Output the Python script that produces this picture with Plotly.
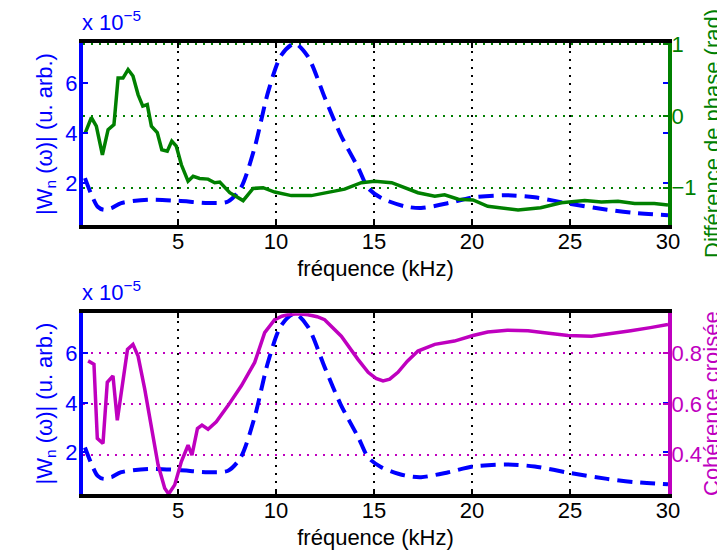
import plotly.graph_objects as go

# ---------------- data ----------------
freq_mag = [0.25, 0.6, 0.9, 1.2, 1.6, 2.1, 3.47, 5.0, 6.53, 7.55, 8.2, 8.9, 9.6, 10.27,
            10.95, 11.63, 12.5, 13.3, 14.2, 14.7, 15.37, 16.56, 17.4, 18.8, 20.05,
            21.8, 23.2, 25.05, 26.9, 28.3, 30.0]
mag = [2.2, 1.5, 1.05, 0.93, 1.0, 1.2, 1.33, 1.29, 1.2, 1.26, 1.8, 3.4, 5.67, 7.13,
       7.6, 7.07, 5.4, 3.93, 2.6, 1.8, 1.4, 1.07, 1.0, 1.2, 1.43,
       1.51, 1.43, 1.16, 0.93, 0.8, 0.71]

freq_phase = [0.27, 0.58, 0.83, 1.14, 1.43, 1.73, 1.94, 2.19, 2.45, 2.7, 2.96, 3.2, 3.43,
              3.64, 3.94, 4.17, 4.45, 4.68, 4.91, 5.17, 5.51, 5.77, 6.1, 6.53, 6.87,
              7.13, 7.64, 8.32, 8.83, 9.34, 9.93, 10.78, 11.8, 12.65, 13.5, 14.35,
              15.03, 15.9, 16.56, 17.24, 18.1, 18.6, 19.3, 20.05, 20.8, 21.8, 22.35,
              23.5, 24.55, 25.75, 26.6, 27.45, 28.3, 29.3, 30.0]
phase = [-0.23, -0.02, -0.14, -0.54, -0.19, -0.12, 0.53, 0.53, 0.65, 0.56, 0.30, 0.14,
         0.16, -0.14, -0.23, -0.47, -0.49, -0.35, -0.42, -0.68, -0.91, -0.84, -0.87,
         -0.88, -0.93, -0.92, -1.07, -1.18, -1.01, -1.0, -1.06, -1.11, -1.11, -1.06,
         -1.02, -0.93, -0.91, -0.93, -1.0, -1.07, -1.12, -1.10, -1.16, -1.17, -1.26,
         -1.30, -1.31, -1.28, -1.21, -1.18, -1.20, -1.19, -1.22, -1.22, -1.24]

freq_coh = [0.41, 0.71, 0.88, 1.17, 1.39, 1.68, 1.9, 2.11, 2.42, 2.7, 2.96, 3.3, 3.64,
            3.98, 4.32, 4.52, 4.83, 5.17, 5.51, 5.71, 5.99, 6.22, 6.53, 6.95, 7.55,
            8.23, 8.91, 9.42, 9.93, 10.3, 10.6, 11.1, 11.63, 12.1, 12.48, 13.33,
            14.18, 14.7, 15.1, 15.46, 15.8, 16.22, 16.7, 17.24, 18.1, 19.1, 20.05,
            20.8, 21.8, 22.86, 23.7, 24.9, 26.1, 27.1, 28.1, 29.1, 30.0]
coherence = [0.769, 0.756, 0.464, 0.444, 0.685, 0.71, 0.535, 0.646, 0.814, 0.834, 0.788,
             0.658, 0.503, 0.36, 0.268, 0.245, 0.281, 0.373, 0.437, 0.398, 0.503, 0.516,
             0.50, 0.529, 0.593, 0.671, 0.763, 0.88, 0.931, 0.945, 0.951, 0.955,
             0.951, 0.943, 0.931, 0.866, 0.775, 0.724, 0.700, 0.69, 0.697, 0.724,
             0.768, 0.808, 0.834, 0.847, 0.869, 0.883, 0.89, 0.888, 0.88, 0.869,
             0.866, 0.876, 0.888, 0.90, 0.912]

x_ticks = [5, 10, 15, 20, 25, 30]
mag_ticks = [2, 4, 6]
phase_ticks = [-1, 0, 1]
phase_ticktext = ["\u22121", "0", "1"]
coh_ticks = [0.4, 0.6, 0.8]
coh_ticktext = ["0.4", "0.6", "0.8"]

# ---------------- style ----------------
BLUE = "#0000FF"
GREEN = "#008000"
MAGENTA = "#BF00BF"
FONT = "Liberation Sans, Arial, Helvetica, sans-serif"
FS = 22
DASH = "15px,8px"
GRID_DASH = "2px,6px"

fig = go.Figure()
fig.add_trace(go.Scatter(x=freq_mag, y=mag, mode="lines", xaxis="x", yaxis="y",
                         line=dict(color=BLUE, width=4, dash=DASH, shape="spline",
                                   smoothing=0.8), showlegend=False))
fig.add_trace(go.Scatter(x=freq_phase, y=phase, mode="lines", xaxis="x", yaxis="y2",
                         line=dict(color=GREEN, width=3.5), showlegend=False))
fig.add_trace(go.Scatter(x=freq_mag, y=mag, mode="lines", xaxis="x2", yaxis="y3",
                         line=dict(color=BLUE, width=4, dash=DASH, shape="spline",
                                   smoothing=0.8), showlegend=False))
fig.add_trace(go.Scatter(x=freq_coh, y=coherence, mode="lines", xaxis="x2", yaxis="y4",
                         line=dict(color=MAGENTA, width=3.5), showlegend=False))


def xaxis(anchor):
    return dict(domain=[0, 1], anchor=anchor, range=[0.15, 30], tickmode="array",
                tickvals=x_ticks, ticks="inside", ticklen=5, tickwidth=2,
                tickcolor="black", showline=True, linecolor="black", linewidth=4,
                mirror="ticks", showgrid=True, gridcolor="black", gridwidth=1.5,
                griddash=GRID_DASH, zeroline=False, ticklabelstandoff=-6,
                tickfont=dict(family=FONT, size=FS, color="black"),
                title=dict(text="fréquence (kHz)", standoff=8,
                           font=dict(family=FONT, size=FS, color="black")),
                automargin=False)


def yleft(domain, anchor):
    return dict(domain=domain, anchor=anchor, range=[0.32, 7.62], tickmode="array",
                tickvals=mag_ticks, ticks="inside", ticklen=5, tickwidth=2,
                tickcolor=BLUE, showline=True, linecolor=BLUE, linewidth=4,
                mirror="ticks", showgrid=False, zeroline=False, ticklabelstandoff=-3,
                tickfont=dict(family=FONT, size=FS, color=BLUE),
                title=dict(text="|W<sub>n</sub> (ω)| (u. arb.)", standoff=8,
                           font=dict(family=FONT, size=FS, color=BLUE)),
                automargin=False)


def yright(overlay, anchor, rng, vals, text, color):
    return dict(overlaying=overlay, anchor=anchor, side="right", range=rng,
                tickmode="array", tickvals=vals, ticktext=text, ticks="inside",
                ticklen=5, tickwidth=2, tickcolor=color, showline=True,
                linecolor=color, linewidth=4, showgrid=True, gridcolor=color,
                gridwidth=2, griddash=GRID_DASH, zeroline=False, ticklabelstandoff=-5,
                tickfont=dict(family=FONT, size=FS, color=color),
                automargin=False)


def side_title(text, xpix, ypix, color):
    # place a rotated title whose centre sits at the given pixel position
    return dict(text=text, xref="paper", yref="paper", x=1.0, y=(486 - ypix) / 451,
                xanchor="center", yanchor="middle", xshift=xpix - 660,
                textangle=-90, showarrow=False,
                font=dict(family=FONT, size=FS, color=color))


fig.update_layout(
    width=725, height=551,
    margin=dict(l=75, r=65, t=35, b=65),
    paper_bgcolor="white", plot_bgcolor="white",
    font=dict(family=FONT, size=FS),
    xaxis=xaxis("y"),
    yaxis=yleft([0.5965, 1.0], "x"),
    yaxis2=yright("y", "x", [-1.52, 1.02], phase_ticks, phase_ticktext, GREEN),
    xaxis2=xaxis("y3"),
    yaxis3=yleft([0.0, 0.401], "x2"),
    yaxis4=yright("y3", "x2", [0.245, 0.957], coh_ticks, coh_ticktext, MAGENTA),
    annotations=[
        dict(text="x 10<sup>\u22125</sup>", xref="paper", yref="paper", x=0,
             y=1.0, xanchor="left", yanchor="bottom", showarrow=False,
             xshift=-3, yshift=6, font=dict(family=FONT, size=FS, color=BLUE)),
        dict(text="x 10<sup>\u22125</sup>", xref="paper", yref="paper", x=0,
             y=0.401, xanchor="left", yanchor="bottom", showarrow=False,
             xshift=-3, yshift=6, font=dict(family=FONT, size=FS, color=BLUE)),
        side_title("Différence de phase (rad)", 704, 126, GREEN),
        side_title("Cohérence croisée", 703, 396, MAGENTA),
    ],
)

fig.write_html("out.html")
